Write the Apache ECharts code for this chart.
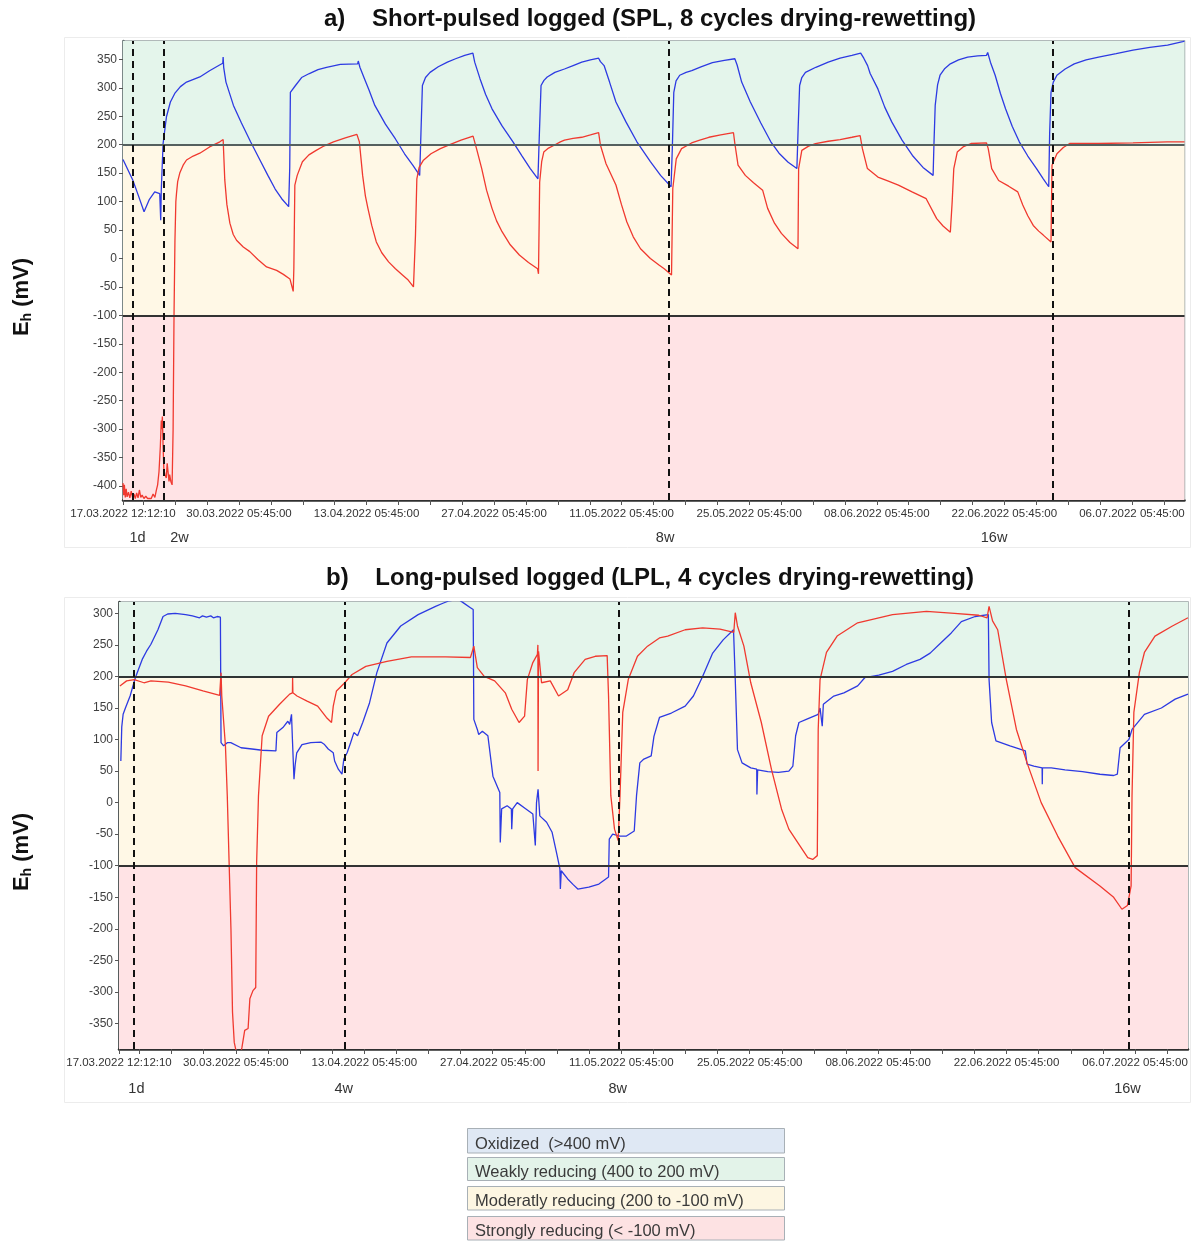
<!DOCTYPE html>
<html>
<head>
<meta charset="utf-8">
<script src="https://cdn.jsdelivr.net/npm/echarts@6/dist/echarts.min.js"></script>
<style>
  html, body { margin: 0; padding: 0; background: #ffffff; }
  #chart { width: 1192px; height: 1242px; }
</style>
</head>
<body>
<div id="chart"></div>
<script>
// ---- Time axis: days elapsed since 17.03.2022 12:12:10 ----
const xTickLabels = [
  '17.03.2022 12:12:10', '30.03.2022 05:45:00', '13.04.2022 05:45:00',
  '27.04.2022 05:45:00', '11.05.2022 05:45:00', '25.05.2022 05:45:00',
  '08.06.2022 05:45:00', '22.06.2022 05:45:00', '06.07.2022 05:45:00'
];
const xTickDays = [0, 12.7311, 26.7311, 40.7311, 54.7311, 68.7311, 82.7311, 96.7311, 110.7311];
const xRangeDays = [0, 116.5];

// ---- Eh axes (mV) ----
const yTicksSPL = [-400, -350, -300, -250, -200, -150, -100, -50, 0, 50, 100, 150, 200, 250, 300, 350];
const yRangeSPL = [-424.6, 382.2];
const yTicksLPL = [-350, -300, -250, -200, -150, -100, -50, 0, 50, 100, 150, 200, 250, 300];
const yRangeLPL = [-390.5, 318];

// ---- Redox classes ----
const bandNames = [
  'Oxidized  (>400 mV)',
  'Weakly reducing (400 to 200 mV)',
  'Moderatly reducing (200 to -100 mV)',
  'Strongly reducing (< -100 mV)'
];
const bandLimits = [[400, 10000], [200, 400], [-100, 200], [-10000, -100]];

// ---- Sampling dates (dashed lines) and their labels ----
const splSamplingDays = [1.08, 4.5, 59.86, 102.0];
const splPeriodLabels = ['1d', '2w', '8w', '16w'];
const splPeriodDays = [1.6, 6.2, 59.5, 95.6];
const lplSamplingDays = [1.65, 24.6, 54.46, 110.0];
const lplPeriodLabels = ['1d', '4w', '8w', '16w'];
const lplPeriodDays = [1.9, 24.5, 54.35, 109.9];

// ---- a) SPL, Eh readings [day, mV] ----
const splBlue = [
  [0.0,174],[0.11,172],[1.07,138],[1.7,110],[2.31,82],[2.9,104],[3.48,117],[4.03,114],[4.14,67],[4.2,120],
  [4.4,202],[4.77,249],[5.2,275],[5.68,290],[6.3,302],[6.97,310],[8.43,319],[9.5,330],[10.6,340],[10.95,343],
  [10.99,354],[11.05,336],[11.3,310],[12.12,269],[13.0,238],[14.0,205],[15.0,174],[15.9,146],[16.7,122],[17.42,105],
  [18.18,91],[18.3,160],[18.37,292],[18.93,304],[19.6,318],[20.45,325],[21.4,332],[22.34,336],[23.85,341],[25.75,342],
  [25.82,347],[26.0,336],[26.5,316],[27.0,296],[27.64,269],[28.8,236],[29.9,210],[30.9,184],[31.8,164],[32.56,146],
  [32.7,220],[32.86,304],[33.2,318],[33.7,327],[34.6,337],[35.6,345],[36.5,351],[37.5,357],[38.4,361],[38.6,345],
  [39.18,316],[39.8,288],[40.5,263],[41.6,233],[42.8,205],[43.8,180],[44.7,158],[45.54,140],[45.7,220],[45.88,304],
  [46.2,313],[46.56,319],[47.4,327],[48.45,333],[49.4,339],[50.35,345],[51.3,349],[52.2,352],[52.4,346],[52.8,339],
  [53.4,310],[54.1,275],[55.2,240],[56.4,205],[57.88,170],[59.0,146],[60.15,126],[60.3,200],[60.45,292],[60.7,312],
  [61.1,322],[61.8,327],[62.42,330],[63.5,337],[64.69,344],[66.0,348],[67.15,351],[67.4,340],[67.9,310],[68.85,275],
  [70.0,238],[71.1,205],[72.0,185],[73.0,169],[73.96,158],[74.1,230],[74.26,304],[74.5,318],[74.9,327],[76.04,336],
  [77.4,345],[78.7,352],[80.0,357],[80.96,361],[81.3,352],[81.72,339],[82.0,325],[82.85,298],[83.6,266],[84.37,240],
  [85.5,208],[86.64,181],[87.8,160],[88.91,146],[89.0,200],[89.14,269],[89.4,305],[89.67,322],[90.2,334],[90.8,342],
  [91.7,349],[92.7,354],[93.8,356],[94.77,357],[94.9,362],[95.2,345],[95.72,322],[96.3,290],[96.86,263],[97.6,232],
  [98.37,205],[99.3,180],[100.26,158],[101.0,140],[101.6,126],[101.7,220],[101.85,292],[102.1,310],[102.5,322],[103.4,333],
  [104.4,342],[105.7,349],[107.07,354],[109.0,360],[110.85,366],[112.7,371],[114.64,375],[116.3,381],[116.5,382]
];
const splRed = [
  [0.0,-395],[0.08,-416],[0.15,-398],[0.25,-420],[0.35,-405],[0.45,-419],[0.6,-411],[0.75,-421],[0.9,-409],[1.05,-420],
  [1.2,-414],[1.35,-422],[1.5,-412],[1.65,-421],[1.8,-407],[1.95,-420],[2.1,-416],[2.3,-422],[2.5,-418],[2.7,-422],
  [2.9,-419],[3.1,-422],[3.3,-414],[3.5,-420],[3.65,-408],[3.8,-398],[3.95,-375],[4.1,-330],[4.2,-285],[4.25,-300],
  [4.32,-278],[4.4,-330],[4.48,-369],[4.6,-380],[4.75,-386],[4.85,-360],[4.93,-357],[5.05,-392],[5.12,-380],[5.25,-392],
  [5.39,-398],[5.5,-300],[5.6,-100],[5.7,30],[5.8,100],[5.87,114],[6.0,135],[6.23,150],[6.6,164],[6.97,173],
  [7.7,180],[8.43,185],[9.5,196],[10.63,205],[10.99,209],[11.17,138],[11.4,95],[11.73,62],[12.1,42],[12.46,32],
  [13.2,20],[13.92,12],[14.8,-2],[15.76,-15],[16.86,-21],[17.6,-28],[18.32,-36],[18.68,-58],[18.75,-18],[18.86,129],
  [19.12,146],[19.69,170],[20.4,182],[21.2,190],[22.1,198],[23.1,205],[24.4,212],[25.67,218],[25.94,205],[26.3,146],
  [26.6,110],[26.88,88],[27.3,58],[27.8,29],[28.4,10],[29.15,-6],[29.9,-18],[30.67,-29],[31.3,-38],[31.88,-50],
  [32.1,41],[32.25,140],[32.5,160],[32.94,172],[33.8,184],[34.83,193],[36.0,201],[37.1,208],[38.42,215],[38.8,193],
  [39.37,158],[39.9,120],[40.5,88],[41.0,66],[41.6,47],[42.5,24],[43.5,6],[44.5,-7],[45.5,-18],[45.6,-27],
  [45.73,134],[45.95,170],[46.18,187],[46.7,194],[47.32,199],[48.0,205],[48.45,208],[49.4,211],[50.35,213],[51.3,217],
  [52.2,221],[52.4,199],[53.0,167],[54.1,129],[54.7,95],[55.3,64],[56.0,38],[56.8,17],[57.88,0],[58.86,-12],
  [59.4,-18],[60.2,-29],[60.34,123],[60.72,175],[61.3,193],[62.4,203],[63.3,208],[64.3,213],[65.6,217],[67.0,221],
  [67.15,202],[67.5,164],[68.3,146],[69.2,133],[70.2,120],[70.75,88],[71.5,62],[72.26,44],[73.2,28],[74.08,17],
  [74.15,158],[74.5,190],[75.2,197],[76.0,202],[77.4,206],[78.7,209],[80.0,213],[80.9,216],[81.15,193],[81.7,158],
  [82.85,143],[84.0,136],[85.1,129],[86.6,117],[88.15,105],[89.3,70],[90.0,57],[90.8,46],[91.0,99],[91.18,158],
  [91.56,187],[92.2,196],[93.07,202],[94.77,203],[94.96,193],[95.34,158],[96.1,137],[97.2,127],[98.2,117],[98.75,94],
  [99.3,75],[99.9,58],[100.5,48],[101.0,41],[101.85,29],[101.96,164],[102.5,184],[103.2,195],[103.9,202],[107.07,202],
  [110.85,203],[114.6,205],[116.5,205]
];

// ---- b) LPL, Eh readings [day, mV] ----
const lplBlue = [
  [0.2,66],[0.3,120],[0.45,140],[0.7,150],[1.21,169],[1.78,198],[2.53,227],[3.0,240],[3.48,251],[4.24,274],
  [4.8,295],[5.3,299],[6.13,300],[7.26,298],[8.0,296],[8.78,293],[9.1,296],[9.53,294],[10.0,296],[10.29,293],
  [10.7,295],[11.05,294],[11.12,95],[11.4,90],[11.8,95],[12.18,95],[13.3,87],[14.5,85],[15.6,83],[17.1,82],
  [17.2,111],[17.86,119],[18.4,129],[18.6,124],[18.8,140],[18.9,100],[19.07,37],[19.2,60],[19.37,79],[19.94,92],
  [20.9,95],[22.0,96],[22.4,92],[22.8,85],[23.35,79],[23.5,66],[23.9,53],[24.3,45],[24.5,69],[24.86,79],
  [25.24,95],[25.6,111],[26.0,106],[26.56,127],[27.3,158],[28.1,206],[29.2,253],[30.7,280],[32.6,298],[34.5,311],
  [35.3,316],[36.0,320],[37.0,322],[37.5,317],[38.3,309],[38.6,306],[38.67,132],[39.05,116],[39.2,108],[39.6,113],
  [40.2,106],[40.75,42],[41.5,16],[41.55,-63],[41.7,-10],[42.3,-5],[42.76,-10],[42.8,-42],[42.9,-10],[43.4,0],
  [44.35,-10],[45.1,-18],[45.37,-68],[45.5,0],[45.67,21],[45.86,-21],[46.6,-31],[47.2,-47],[47.75,-84],[48.05,-105],
  [48.1,-137],[48.2,-108],[48.9,-121],[49.5,-130],[50.0,-137],[51.2,-134],[52.3,-129],[53.35,-118],[53.43,-58],[53.8,-50],
  [54.6,-53],[55.3,-53],[56.15,-45],[56.4,11],[56.76,63],[57.2,69],[58.0,74],[58.3,105],[58.9,135],[60.2,142],
  [61.7,153],[62.6,169],[63.6,200],[64.7,237],[65.84,258],[66.97,274],[67.16,195],[67.4,84],[67.9,63],[68.85,55],
  [69.5,53],[69.52,13],[69.6,52],[70.7,49],[71.86,48],[73.0,50],[73.44,58],[73.74,106],[74.1,127],[74.9,132],
  [76.2,140],[76.4,150],[76.64,121],[76.76,156],[77.9,169],[79.0,174],[80.5,185],[81.27,198],[82.8,202],[84.3,208],
  [85.8,219],[87.3,227],[88.4,237],[89.55,253],[90.7,269],[91.8,287],[93.3,295],[94.74,298],[94.82,195],[95.1,127],
  [95.57,98],[97.1,90],[98.77,82],[98.96,61],[99.7,58],[100.6,55],[100.62,29],[100.64,55],[101.6,55],[103.1,52],
  [105.0,49],[106.9,45],[108.4,43],[108.8,45],[109.1,87],[110.06,100],[110.4,116],[111.75,140],[113.6,150],[115.1,164],
  [116.5,172]
];
const lplRed = [
  [0.1,185],[0.83,193],[1.66,195],[2.72,190],[3.48,193],[5.37,191],[7.26,185],[9.15,177],[10.97,170],[11.12,206],
  [11.2,169],[11.6,90],[11.8,11],[12.0,-95],[12.2,-200],[12.37,-332],[12.56,-380],[12.75,-393],[13.3,-395],[13.4,-388],
  [13.7,-361],[14.07,-358],[14.26,-311],[14.6,-298],[14.9,-293],[15.0,-95],[15.2,11],[15.6,106],[16.3,137],[17.5,156],
  [18.6,172],[18.9,174],[18.92,198],[18.95,174],[19.4,169],[20.5,161],[21.65,153],[22.6,135],[23.16,127],[23.35,153],
  [23.7,177],[24.6,190],[25.4,203],[26.9,216],[29.2,224],[31.86,231],[35.6,231],[38.3,230],[38.67,248],[39.05,214],
  [39.8,200],[40.94,193],[42.1,174],[42.8,148],[43.6,127],[44.2,137],[44.5,195],[45.1,222],[45.6,235],[45.65,250],
  [45.67,50],[45.72,240],[46.05,190],[47.0,193],[47.9,169],[48.9,179],[49.6,206],[50.8,227],[51.9,232],[53.2,233],
  [53.35,169],[53.6,11],[54.0,-42],[54.4,-60],[54.6,11],[54.9,143],[55.5,195],[56.5,232],[57.6,248],[58.9,261],
  [59.8,264],[61.7,274],[63.6,277],[65.5,275],[67.0,270],[67.16,301],[67.4,280],[68.1,248],[68.85,190],[70.0,127],
  [71.1,53],[72.2,-10],[73.0,-42],[74.1,-66],[75.06,-87],[75.6,-90],[76.1,-84],[76.2,116],[76.4,195],[77.1,238],
  [78.26,264],[80.5,285],[84.3,298],[88.0,303],[91.05,300],[93.7,297],[94.6,293],[94.82,311],[95.2,288],[95.76,274],
  [96.7,195],[97.8,116],[98.96,63],[100.5,0],[102.3,-53],[104.2,-103],[106.9,-132],[108.4,-150],[109.3,-169],[109.9,-163],
  [110.3,-132],[110.4,11],[110.6,143],[111.2,206],[111.75,238],[112.9,264],[114.8,280],[116.5,293]
];

// ---- styling ----
const FONT = "'Liberation Sans', Arial, sans-serif";
const BLUE = '#2d3ae2';
const RED = '#f0392f';
const bandFill = ['#dde7f3', '#e4f5eb', '#fff8e6', '#ffe3e5'];
const legendFill = ['#dfe8f4', '#e3f3e9', '#fdf6e2', '#fde2e3'];

// minor x ticks every 3.5 days, anchored on the date ticks
function minorDays(step) {
  const out = [0];
  let d = xTickDays[1];
  while (d - step > 0) d -= step;
  for (; d <= xRangeDays[1] + 1e-6; d += step) out.push(+d.toFixed(4));
  return out;
}
function minorY(range, step) {
  const out = [];
  for (let v = Math.ceil(range[0] / step) * step; v <= range[1]; v += step) out.push(v);
  return out;
}
function nearestLabel(values, labels, v) {
  let best = 0;
  values.forEach((x, i) => { if (Math.abs(x - v) < Math.abs(values[best] - v)) best = i; });
  return labels[best];
}

const grids = [
  { left: 123, top: 41, width: 1061.5, height: 459 },
  { left: 119, top: 602, width: 1069, height: 447 }
];

function xAxes(gi, periodDays, periodLabels, periodOffset) {
  return [
    {
      type: 'value', gridIndex: gi, min: xRangeDays[0], max: xRangeDays[1],
      axisLine: { show: true, onZero: false, lineStyle: { color: '#2f2f2f', width: 2.5 } },
      axisTick: { show: true, customValues: minorDays(3.5), length: 5, lineStyle: { color: '#555', width: 1 } },
      axisLabel: {
        customValues: xTickDays, margin: 8, fontSize: 11.5, color: '#333', fontFamily: FONT,
        formatter: v => nearestLabel(xTickDays, xTickLabels, v)
      },
      splitLine: { show: false }
    },
    {
      type: 'value', gridIndex: gi, min: xRangeDays[0], max: xRangeDays[1], position: 'bottom',
      offset: periodOffset,
      axisLine: { show: false }, axisTick: { show: false }, splitLine: { show: false },
      axisLabel: {
        customValues: periodDays, margin: 8, fontSize: 14.5, color: '#333', fontFamily: FONT,
        formatter: v => nearestLabel(periodDays, periodLabels, v)
      }
    }
  ];
}

function yAxes(gi, range, ticks, lineColor) {
  return [
    {
      type: 'value', gridIndex: gi, min: range[0], max: range[1],
      axisLine: { show: true, onZero: false, lineStyle: { color: lineColor, width: 2.5 } },
      axisTick: { show: true, customValues: ticks, length: 4, lineStyle: { color: '#555' } },
      axisLabel: { customValues: ticks, margin: 6, fontSize: 12, color: '#404040', fontFamily: FONT },
      splitLine: { show: false }
    },
    {
      type: 'value', gridIndex: gi, min: range[0], max: range[1],
      axisLine: { show: false }, axisLabel: { show: false }, splitLine: { show: false },
      axisTick: { show: true, customValues: minorY(range, 10), length: 2.5, lineStyle: { color: '#7d8888' } }
    }
  ];
}

function bandAreas(range) {
  return bandLimits.map((lim, i) => [
    { yAxis: Math.max(lim[0], range[0]), itemStyle: { color: bandFill[i] } },
    { yAxis: Math.min(lim[1], range[1]) }
  ]).filter(p => p[0].yAxis < p[1].yAxis);
}

function markers(range, samplingDays, upperLineColor) {
  return {
    markArea: { silent: true, itemStyle: { opacity: 1 }, data: bandAreas(range) },
    markLine: {
      silent: true, symbol: ['none', 'none'], label: { show: false },
      data: [
        { yAxis: bandLimits[1][1] <= range[1] ? bandLimits[1][1] : bandLimits[2][1], lineStyle: { color: upperLineColor, width: 2, type: 'solid' } },
        { yAxis: bandLimits[3][1], lineStyle: { color: '#333', width: 2, type: 'solid' } }
      ].filter(d => d.yAxis > range[0] && d.yAxis < range[1]).concat(
        samplingDays.map(d => ({ xAxis: d, lineStyle: { color: '#111', width: 2, type: [7, 5] } }))
      )
    }
  };
}

function lineSeries(data, color, xi, yi, extra) {
  return Object.assign({
    type: 'line', data: data, xAxisIndex: xi, yAxisIndex: yi,
    showSymbol: false, symbol: 'none', clip: true, z: 3,
    lineStyle: { color: color, width: 1.3 }, itemStyle: { color: color },
    emphasis: { disabled: true }, animation: false
  }, extra || {});
}

const yTitle = (y) => ({
  type: 'text', x: 22, y: y, rotation: Math.PI / 2,
  style: {
    text: '{b|E}{s|h}{b| (mV)}', align: 'center', verticalAlign: 'middle', fill: '#111',
    rich: {
      b: { fontSize: 22, fontWeight: 'bold', fontFamily: FONT, fill: '#111', lineHeight: 24 },
      s: { fontSize: 14, fontWeight: 'bold', fontFamily: FONT, fill: '#111', verticalAlign: 'bottom', lineHeight: 14 }
    }
  }
});

const legendGraphic = [];
const legendBoxes = [[1128, 24.5], [1157, 23], [1186, 23.5], [1216, 23.5]];
bandNames.forEach((name, i) => {
  legendGraphic.push({
    type: 'rect', shape: { x: 467.5, y: legendBoxes[i][0] + 0.5, width: 317, height: legendBoxes[i][1] },
    style: { fill: legendFill[i], stroke: '#a8b0b6', lineWidth: 1 }
  });
  legendGraphic.push({
    type: 'text', x: 475, y: legendBoxes[i][0] + legendBoxes[i][1] / 2 + 4,
    style: { text: name, fontSize: 16.5, fontFamily: FONT, fill: '#3a3a3a', align: 'left', verticalAlign: 'middle' }
  });
});

const titleStyle = { align: 'center', verticalAlign: 'middle', fontSize: 24, fontWeight: 'bold', fontFamily: FONT, fill: '#111' };

const option = {
  backgroundColor: '#ffffff',
  animation: false,
  textStyle: { fontFamily: FONT },
  grid: grids.map(g => Object.assign({ show: true, borderColor: '#98a2a2', borderWidth: 1.5, backgroundColor: 'transparent' }, g)),
  xAxis: xAxes(0, splPeriodDays, splPeriodLabels, 22).concat(xAxes(1, lplPeriodDays, lplPeriodLabels, 24)),
  yAxis: yAxes(0, yRangeSPL, yTicksSPL, '#6b7878').concat(yAxes(1, yRangeLPL, yTicksLPL, '#3a3f3f')),
  series: [
    lineSeries(splBlue, BLUE, 0, 0, markers(yRangeSPL, splSamplingDays, '#55605f')),
    lineSeries(splRed, RED, 0, 0),
    lineSeries(lplBlue, BLUE, 2, 2, markers(yRangeLPL, lplSamplingDays, '#2f3434')),
    lineSeries(lplRed, RED, 2, 2)
  ],
  graphic: [
    { type: 'rect', shape: { x: 64.5, y: 37.5, width: 1126, height: 510 }, style: { fill: 'none', stroke: '#ececec', lineWidth: 1 }, z: -1 },
    { type: 'rect', shape: { x: 64.5, y: 597.5, width: 1126, height: 505 }, style: { fill: 'none', stroke: '#ececec', lineWidth: 1 }, z: -1 },
    { type: 'text', x: 650, y: 19, style: Object.assign({ text: 'a)    Short-pulsed logged (SPL, 8 cycles drying-rewetting)' }, titleStyle) },
    { type: 'text', x: 650, y: 578, style: Object.assign({ text: 'b)    Long-pulsed logged (LPL, 4 cycles drying-rewetting)' }, titleStyle) },
    yTitle(297),
    yTitle(852)
  ].concat(legendGraphic)
};

const chart = echarts.init(document.getElementById('chart'), null, { renderer: 'canvas' });
chart.setOption(option);
</script>
</body>
</html>
